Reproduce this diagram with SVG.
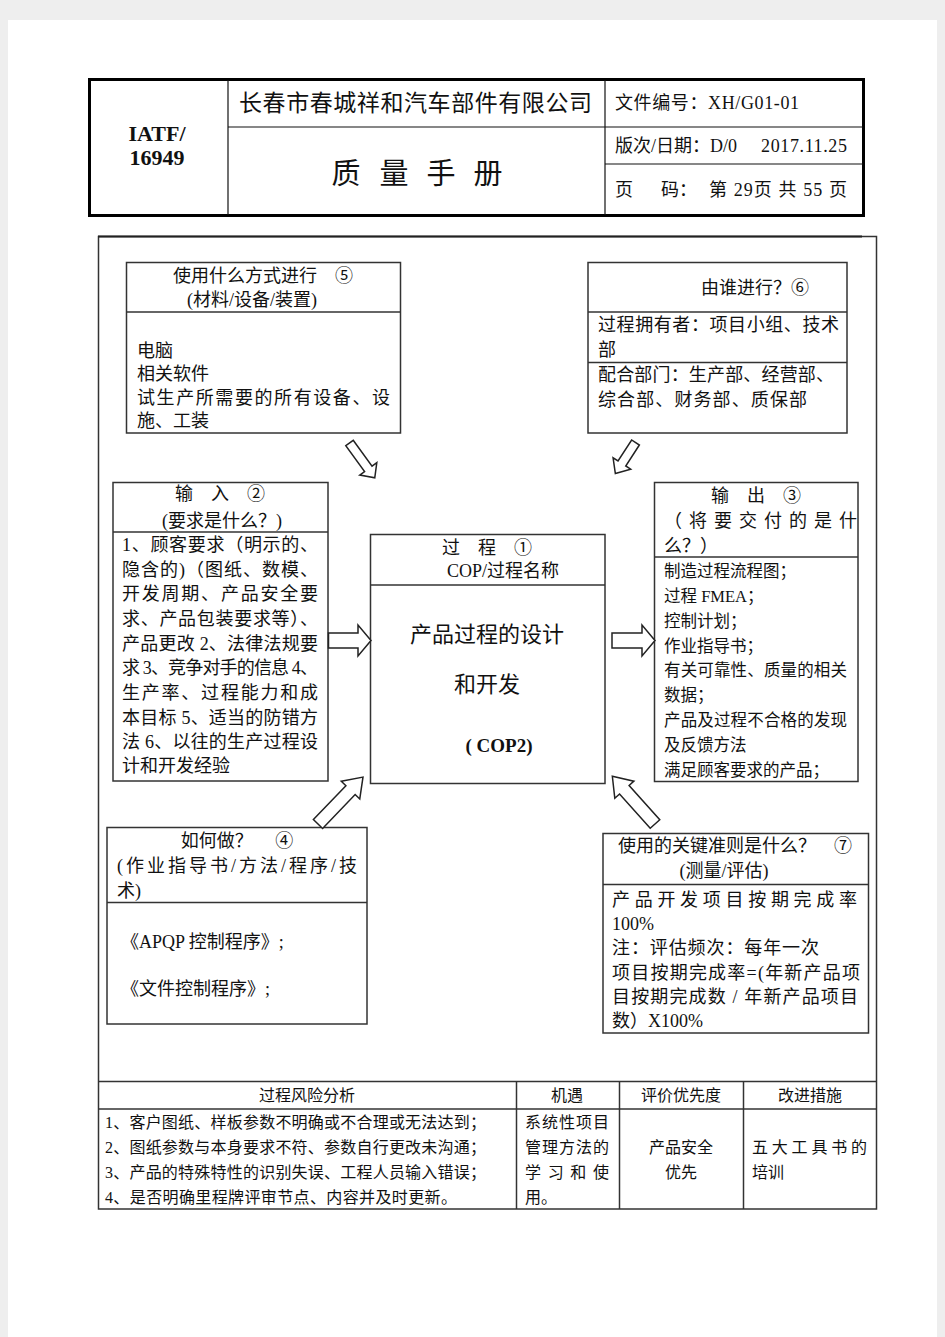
<svg xmlns="http://www.w3.org/2000/svg" width="945" height="1337" viewBox="0 0 945 1337">
<style>
text{font-family:"Liberation Serif","Noto Sans CJK SC",serif;fill:#111;}
.t18{font-size:18px;}
.t17{font-size:17px;}
.t16{font-size:16px;}
.c{text-anchor:middle;}
.box{fill:none;stroke:#333;stroke-width:1.5;}
.ln{stroke:#333;stroke-width:1.5;fill:none;}
.hd{stroke:#111;stroke-width:1.2;fill:none;}
.arr{fill:#fff;stroke:#222;stroke-width:1.5;stroke-linejoin:miter;}
</style>
<rect x="0" y="0" width="945" height="1337" fill="#eeeeee"/>
<rect x="8" y="20" width="929" height="1317" fill="#ffffff"/>

<g id="header">
<rect x="89.5" y="79.5" width="774" height="136" fill="none" stroke="#000" stroke-width="3"/>
<line class="hd" x1="228" y1="80" x2="228" y2="215"/>
<line class="hd" x1="605" y1="80" x2="605" y2="215"/>
<line class="hd" x1="228" y1="127" x2="863" y2="127"/>
<line class="hd" x1="605" y1="164" x2="863" y2="164"/>
<text x="157" y="141" class="c" style="font-size:22px;font-weight:bold">IATF/</text>
<text x="157" y="165" class="c" style="font-size:22px;font-weight:bold">16949</text>
<text x="239" y="111" style="font-size:23px" textLength="353" lengthAdjust="spacing">长春市春城祥和汽车部件有限公司</text>
<text x="346" y="184" class="c" style="font-size:29px">质</text>
<text x="394" y="184" class="c" style="font-size:29px">量</text>
<text x="441" y="184" class="c" style="font-size:29px">手</text>
<text x="488" y="184" class="c" style="font-size:29px">册</text>
<text x="615" y="109" class="t18" textLength="184" lengthAdjust="spacing">文件编号：XH/G01-01</text>
<text x="615" y="152" class="t18">版次/日期：D/0<tspan x="761" textLength="86" lengthAdjust="spacing">2017.11.25</tspan></text>
<text x="615" y="196" class="t18">页<tspan x="661">码：</tspan><tspan x="709" textLength="138" lengthAdjust="spacing">第 29页  共 55 页</tspan></text>
</g>

<g id="frame">
<rect x="98.5" y="236.5" width="778" height="972.5" fill="none" stroke="#333" stroke-width="1.5"/>
<line x1="98" y1="236.5" x2="862" y2="236.5" stroke="#222" stroke-width="2"/>
</g>

<g id="node5">
<rect class="box" x="126.5" y="262.5" width="274" height="170.5"/>
<line class="ln" x1="126.5" y1="312" x2="400.5" y2="312"/>
<text x="263" y="282" class="t18 c">使用什么方式进行　⑤</text>
<text x="252" y="306" class="t18 c">(材料/设备/装置)</text>
<text x="137" y="357" class="t18">电脑</text>
<text x="137" y="380" class="t18">相关软件</text>
<text x="137" y="404" class="t18" textLength="253" lengthAdjust="spacing">试生产所需要的所有设备、设</text>
<text x="137" y="427" class="t18">施、工装</text>
</g>

<g id="node6">
<rect class="box" x="588" y="262.5" width="259" height="170.5"/>
<line class="ln" x1="588" y1="312" x2="847" y2="312"/>
<line class="ln" x1="588" y1="362.5" x2="847" y2="362.5"/>
<text x="701" y="294" class="t18">由谁进行？⑥</text>
<text x="598" y="331" class="t18" textLength="241" lengthAdjust="spacing">过程拥有者：项目小组、技术</text>
<text x="598" y="356" class="t18">部</text>
<text x="598" y="381" class="t18" textLength="236" lengthAdjust="spacing">配合部门：生产部、经营部、</text>
<text x="598" y="406" class="t18" textLength="209" lengthAdjust="spacing">综合部、财务部、质保部</text>
</g>

<g id="node2">
<rect class="box" x="113" y="482.5" width="215" height="298.5"/>
<line class="ln" x1="113" y1="532" x2="328" y2="532"/>
<text x="220" y="500" class="t18 c">输　入　②</text>
<text x="222" y="527" class="t18 c">(要求是什么？)</text>
<text x="122" y="551" class="t18" textLength="196" lengthAdjust="spacing">1、顾客要求（明示的、</text>
<text x="122" y="575.5" class="t18" textLength="196" lengthAdjust="spacing">隐含的)（图纸、数模、</text>
<text x="122" y="600" class="t18" textLength="196" lengthAdjust="spacing">开发周期、产品安全要</text>
<text x="122" y="625" class="t18" textLength="196" lengthAdjust="spacing">求、产品包装要求等）、</text>
<text x="122" y="649.5" class="t18" textLength="196" lengthAdjust="spacing">产品更改 2、法律法规要</text>
<text x="122" y="674" class="t18" textLength="196" lengthAdjust="spacing">求 3、竞争对手的信息 4、</text>
<text x="122" y="699" class="t18" textLength="196" lengthAdjust="spacing">生产率、过程能力和成</text>
<text x="122" y="723.5" class="t18" textLength="196" lengthAdjust="spacing">本目标 5、适当的防错方</text>
<text x="122" y="748" class="t18" textLength="196" lengthAdjust="spacing">法 6、以往的生产过程设</text>
<text x="122" y="772" class="t18">计和开发经验</text>
</g>

<g id="node1">
<rect class="box" x="370.5" y="534.5" width="234.5" height="249"/>
<line class="ln" x1="370.5" y1="585" x2="605" y2="585"/>
<text x="487" y="554" class="t18 c">过　程　①</text>
<text x="503" y="577" class="t18 c">COP/过程名称</text>
<text x="487" y="642" class="c" style="font-size:22px">产品过程的设计</text>
<text x="487" y="692" class="c" style="font-size:22px">和开发</text>
<text x="499" y="752" class="c" style="font-size:19px;font-weight:bold">( COP2)</text>
</g>

<g id="node3">
<rect class="box" x="654.5" y="482.5" width="203.5" height="299"/>
<line class="ln" x1="654.5" y1="557" x2="858" y2="557"/>
<text x="756" y="502" class="t18 c">输　出　③</text>
<text x="664" y="527" class="t18" textLength="193" lengthAdjust="spacing">（将要交付的是什</text>
<text x="664" y="552" class="t18">么？）</text>
<text x="664" y="577" style="font-size:16.5px">制造过程流程图；</text>
<text x="664" y="602" style="font-size:16.5px">过程 FMEA；</text>
<text x="664" y="627" style="font-size:16.5px">控制计划；</text>
<text x="664" y="652" style="font-size:16.5px">作业指导书；</text>
<text x="664" y="676" style="font-size:16.5px" textLength="183" lengthAdjust="spacing">有关可靠性、质量的相关</text>
<text x="664" y="701" style="font-size:16.5px">数据；</text>
<text x="664" y="726" style="font-size:16.5px" textLength="183" lengthAdjust="spacing">产品及过程不合格的发现</text>
<text x="664" y="751" style="font-size:16.5px">及反馈方法</text>
<text x="664" y="776" style="font-size:16.5px">满足顾客要求的产品；</text>
</g>

<g id="node4">
<rect class="box" x="107" y="827.5" width="260" height="196.5"/>
<line class="ln" x1="107" y1="902.5" x2="367" y2="902.5"/>
<text x="237" y="847" class="t18 c">如何做？　 ④</text>
<text x="117" y="872" class="t18" textLength="240" lengthAdjust="spacing">(作业指导书/方法/程序/技</text>
<text x="117" y="897" class="t18">术)</text>
<text x="121" y="948" class="t18">《APQP 控制程序》;</text>
<text x="121" y="995" class="t18">《文件控制程序》;</text>
</g>

<g id="node7">
<rect class="box" x="603" y="833.5" width="265.5" height="199.5"/>
<line class="ln" x1="603" y1="884.5" x2="868.5" y2="884.5"/>
<text x="735" y="852" class="t18 c">使用的关键准则是什么？　⑦</text>
<text x="724" y="877" class="t18 c">(测量/评估)</text>
<text x="612" y="906" class="t18" textLength="245" lengthAdjust="spacing">产品开发项目按期完成率</text>
<text x="612" y="930" class="t18">100%</text>
<text x="612" y="954" class="t18" textLength="207" lengthAdjust="spacing">注：评估频次：每年一次</text>
<text x="612" y="979" class="t18" textLength="248" lengthAdjust="spacing">项目按期完成率=(年新产品项</text>
<text x="612" y="1003" class="t18" textLength="246" lengthAdjust="spacing">目按期完成数 / 年新产品项目</text>
<text x="612" y="1027" class="t18">数）X100%</text>
</g>

<g id="connectors">
<polygon class="arr" points="328.5,633 358,633 358,625 371,640.5 358,656 358,648 328.5,648"/>
<polygon class="arr" points="612,633 642,633 642,625 655,640.5 642,656 642,648 612,648"/>
<polygon class="arr" transform="translate(349.5,443) rotate(54)" points="0,-4.6 32,-4.6 32,-10.5 43,0 32,10.5 32,4.6 0,4.6"/>
<polygon class="arr" transform="translate(635.5,442.5) rotate(123)" points="0,-4.6 25,-4.6 25,-10.5 37,0 25,10.5 25,4.6 0,4.6"/>
<polygon class="arr" transform="translate(318,824) rotate(-46.2)" points="0,-6.4 47,-6.4 47,-12.8 65,0 47,12.8 47,6.4 0,6.4"/>
<polygon class="arr" transform="translate(655,824) rotate(-131.8)" points="0,-6.4 46,-6.4 46,-12.8 64,0 46,12.8 46,6.4 0,6.4"/>
</g>

<g id="risk-table">
<line class="ln" x1="98.5" y1="1081.5" x2="876.5" y2="1081.5"/>
<line class="ln" x1="98.5" y1="1109" x2="876.5" y2="1109"/>
<line class="ln" x1="516.5" y1="1081.5" x2="516.5" y2="1209"/>
<line class="ln" x1="619.5" y1="1081.5" x2="619.5" y2="1209"/>
<line class="ln" x1="743.5" y1="1081.5" x2="743.5" y2="1209"/>
<text x="307" y="1101" class="t16 c">过程风险分析</text>
<text x="567" y="1101" class="t16 c">机遇</text>
<text x="681" y="1101" class="t16 c">评价优先度</text>
<text x="810" y="1101" class="t16 c">改进措施</text>
<text x="105" y="1128" class="t16" textLength="381" lengthAdjust="spacing">1、客户图纸、样板参数不明确或不合理或无法达到；</text>
<text x="105" y="1153" class="t16" textLength="381" lengthAdjust="spacing">2、图纸参数与本身要求不符、参数自行更改未沟通；</text>
<text x="105" y="1178" class="t16" textLength="381" lengthAdjust="spacing">3、产品的特殊特性的识别失误、工程人员输入错误；</text>
<text x="105" y="1203" class="t16" textLength="352" lengthAdjust="spacing">4、是否明确里程牌评审节点、内容并及时更新。</text>
<text x="525" y="1128" class="t16" textLength="84" lengthAdjust="spacing">系统性项目</text>
<text x="525" y="1153" class="t16" textLength="84" lengthAdjust="spacing">管理方法的</text>
<text x="525" y="1178" class="t16" textLength="84" lengthAdjust="spacing">学习和使</text>
<text x="525" y="1203" class="t16">用。</text>
<text x="681" y="1153" class="t16 c">产品安全</text>
<text x="681" y="1178" class="t16 c">优先</text>
<text x="752" y="1153" class="t16" textLength="115" lengthAdjust="spacing">五大工具书的</text>
<text x="752" y="1178" class="t16">培训</text>
</g>
</svg>
